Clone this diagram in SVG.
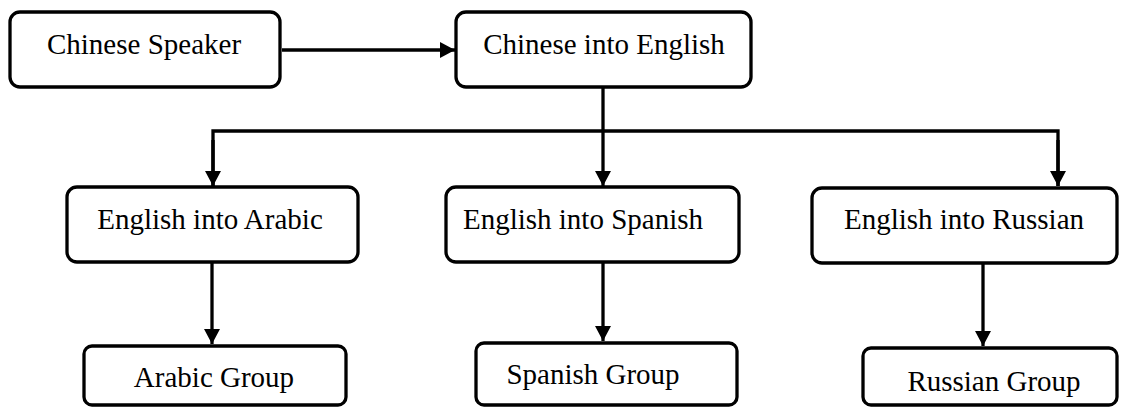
<svg xmlns="http://www.w3.org/2000/svg" width="1121" height="407" viewBox="0 0 1121 407">
  <style>
    .box { fill: #ffffff; stroke: #000000; stroke-width: 3.3; }
    .label { font-family: "Liberation Serif", "Times New Roman", serif; font-size: 29px; fill: #000000; text-anchor: middle; }
    .link { fill: none; stroke: #000000; stroke-width: 3.3; }
  </style>
  <defs>
    <marker id="arrow" markerUnits="userSpaceOnUse" markerWidth="16" markerHeight="16" refX="15" refY="8" orient="auto">
      <path d="M0,0 L15,8 L0,16 Z" fill="#000000"/>
    </marker>
  </defs>
  <rect width="1121" height="407" fill="#ffffff"/>

  <g id="connectors">
    <line class="link" x1="282" y1="50" x2="455" y2="50" marker-end="url(#arrow)"/>
    <line class="link" x1="603" y1="88" x2="603" y2="186" marker-end="url(#arrow)"/>
    <polyline class="link" points="213,186 213,131 1058,131 1058,186"/>
    <line class="link" x1="213" y1="140" x2="213" y2="186" marker-end="url(#arrow)"/>
    <line class="link" x1="1058" y1="140" x2="1058" y2="186" marker-end="url(#arrow)"/>
    <line class="link" x1="212" y1="263" x2="212" y2="344" marker-end="url(#arrow)"/>
    <line class="link" x1="603" y1="263" x2="603" y2="341" marker-end="url(#arrow)"/>
    <line class="link" x1="983" y1="264" x2="983" y2="346" marker-end="url(#arrow)"/>
  </g>

  <g id="chinese-speaker">
    <rect class="box" x="10" y="12" width="270" height="75" rx="10"/>
    <text class="label" x="144" y="54">Chinese Speaker</text>
  </g>
  <g id="chinese-into-english">
    <rect class="box" x="456" y="12" width="295" height="75" rx="10"/>
    <text class="label" x="604" y="54">Chinese into English</text>
  </g>
  <g id="english-into-arabic">
    <rect class="box" x="67" y="187" width="291" height="75" rx="10"/>
    <text class="label" x="210" y="229">English into Arabic</text>
  </g>
  <g id="english-into-spanish">
    <rect class="box" x="446" y="187" width="293" height="75" rx="10"/>
    <text class="label" x="583" y="229">English into Spanish</text>
  </g>
  <g id="english-into-russian">
    <rect class="box" x="812" y="188" width="305" height="75" rx="10"/>
    <text class="label" x="964" y="229">English into Russian</text>
  </g>
  <g id="arabic-group">
    <rect class="box" x="84" y="346" width="262" height="59" rx="8"/>
    <text class="label" x="214" y="387">Arabic Group</text>
  </g>
  <g id="spanish-group">
    <rect class="box" x="476" y="343" width="261" height="62" rx="8"/>
    <text class="label" x="593" y="384">Spanish Group</text>
  </g>
  <g id="russian-group">
    <rect class="box" x="863" y="348" width="254" height="57" rx="8"/>
    <text class="label" x="994" y="391">Russian Group</text>
  </g>
</svg>
